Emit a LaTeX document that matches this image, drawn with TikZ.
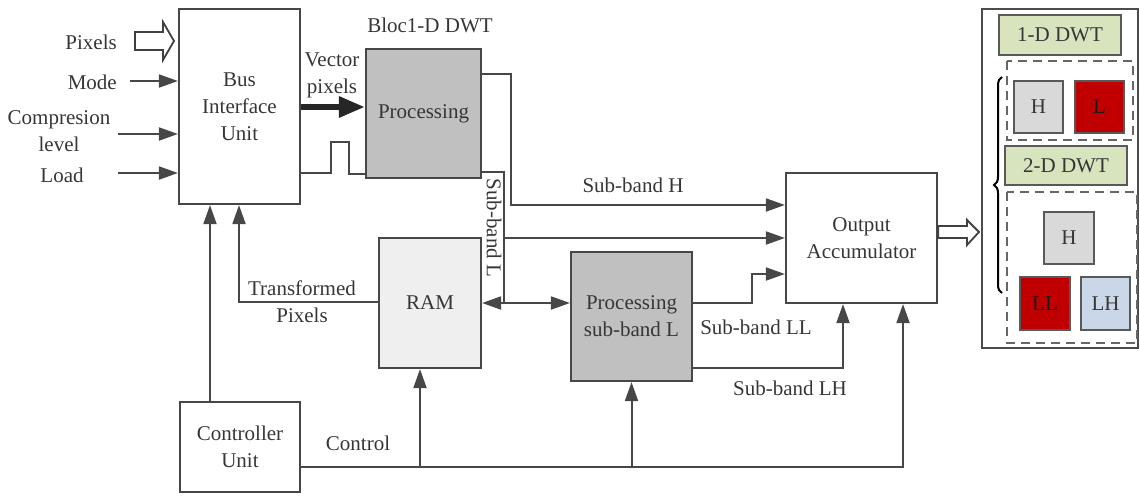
\documentclass[tikz,border=0pt]{standalone}
\usepackage{fontspec}
\setmainfont{Liberation Serif}
\usetikzlibrary{arrows.meta,decorations.pathreplacing}
\definecolor{wirecol}{HTML}{474747}
\definecolor{txtcol}{HTML}{363636}
\definecolor{procgray}{HTML}{C0C0C0}
\definecolor{ramgray}{HTML}{EFEFEF}
\definecolor{hgray}{HTML}{D9D9D9}
\definecolor{dwtgreen}{HTML}{D7E4BD}
\definecolor{bandred}{HTML}{C00000}
\definecolor{lhblue}{HTML}{C9D7E8}
\tikzset{
    myblock/.style={draw=wirecol,line width=2.2pt,align=center,inner sep=0pt,text=txtcol},
    mywire/.style={draw=wirecol,line width=2pt},
    mysig/.style={mywire,-{Triangle[length=19pt,width=13pt]}},
    mybig/.style={draw=black!85,line width=6pt,-{Triangle[length=26pt,width=20pt]}},
    myhollow/.style={draw=black!75,line width=1.8pt,fill=white,line join=miter},
    mylabel/.style={text=txtcol,align=center,inner sep=0pt},
    mydash/.style={draw=black!60,line width=2pt,dash pattern=on 9pt off 6pt},
    mysmall/.style={draw=black!65,line width=2.6pt,inner sep=0pt,text=txtcol},
    every node/.style={font=\fontsize{21}{27}\selectfont}
}
\begin{document}
\begin{tikzpicture}[x=1pt,y=-1pt]
  \useasboundingbox (0,0) rectangle (1140,498);

  % 模块
  \node[myblock,minimum width=121pt,minimum height=195pt] (biu) at (239.5,106.5) {Bus\\Interface\\Unit};
  \node[myblock,fill=procgray,minimum width=115pt,minimum height=129pt] (proc) at (423.5,113.5) {Processing};
  \node[myblock,fill=ramgray,minimum width=102pt,minimum height=130pt] (ram) at (430,303) {RAM};
  \node[myblock,fill=procgray,minimum width=121pt,minimum height=129pt] (procl) at (631.5,316.5) {Processing\\sub-band L};
  \node[myblock,minimum width=151pt,minimum height=130pt] (oa) at (861.5,238) {Output\\Accumulator};
  \node[myblock,minimum width=120pt,minimum height=90pt] (ctrl) at (240,447) {Controller\\Unit};

  % 输入
  \coordinate (inpx) at (135,41);
  \coordinate (inmode) at (130,81);
  \coordinate (incomp) at (118,134);
  \coordinate (inload) at (118,173);
  \draw[myhollow] (inpx) ++(0,-9) -- ++(28,0) -- ++(0,-10) -- (174,41)
    -- (163,60) -- ++(0,-10) -- ++(-28,0) -- cycle;
  \draw[mysig] (inmode) -- (inmode -| biu.west);
  \draw[mysig] (incomp) -- (incomp -| biu.west);
  \draw[mysig] (inload) -- (inload -| biu.west);
  \node[mylabel,anchor=east] (lpx) at (117,42) {Pixels};
  \node[mylabel,anchor=east] (lmode) at (117,82) {Mode};
  \node[mylabel] (lcomp) at (59,131) {Compresion\\level};
  \node[mylabel] (lload) at (62,175) {Load};

  % 一维 DWT
  \node[mylabel] (lbloc) at (430,25) {Bloc1-D DWT};
  \draw[mybig] (biu.east |- 0,107) -- (proc.west |- 0,107);
  \node[mylabel] (lvec) at (332,75) {Vector\\pixels};
  \draw[mywire] (inload -| biu.east) -- (331,173) -- (331,142) -- (349,142)
    -- (349,174) -- (proc.west |- 0,174);

  % 子带
  \draw[mysig] (proc.east |- 0,74) -- (511,74) -- (511,205) -- (oa.west |- 0,205);
  \node[mylabel] (lh) at (633,185) {Sub-band H};
  \draw[mywire] (proc.east |- 0,172) -- (504,172) -- (504,303);
  \coordinate (split) at (504,303);
  \draw[mysig] (504,238) -- (oa.west |- 0,238);
  \draw[mysig] (split) -- (ram.east |- split);
  \draw[mysig] (split) -- (procl.west |- split);
  \node[mylabel,rotate=-90] (ll) at (494,228) {Sub-band L};
  \draw[mysig] (procl.east |- 0,303) -- (752,303) -- (752,274) -- (oa.west |- 0,274);
  \node[mylabel] (lll) at (756,327) {Sub-band LL};
  \draw[mysig] (procl.east |- 0,368) -- (843,368) -- (oa.south -| 843,0);
  \node[mylabel] (llh) at (790,388) {Sub-band LH};

  % 回写与控制
  \draw[mysig] (ram.west |- 0,302) -- (239,302) -- (biu.south -| 239,0);
  \node[mylabel] (ltr) at (302,302) {Transformed\\Pixels};
  \draw[mysig] (ctrl.north -| 210,0) -- (biu.south -| 210,0);
  \draw[mysig] (ctrl.east |- 0,467) -- (903,467) -- (oa.south -| 903,0);
  \draw[mysig] (420,467) -- (ram.south -| 420,0);
  \draw[mysig] (procl.south |- 0,467) -- (procl.south);
  \node[mylabel] (lctrl) at (358,443) {Control};

  % 输出
  \draw[myhollow] (oa.east |- 0,226) -- (967,226) -- (967,220) -- (979,232)
    -- (967,245) -- (967,238) -- (oa.east |- 0,238) -- cycle;

  % 结果面板
  \draw[draw=black!70,line width=1.8pt] (982,9) rectangle (1138,348);
  \node[mysmall,fill=dwtgreen,minimum width=122pt,minimum height=40pt] (dw1) at (1060,35) {1-D DWT};
  \draw[mydash] (1007,61) rectangle (1133,140);
  \node[mysmall,fill=hgray,minimum width=49pt,minimum height=52pt] (h1) at (1038.5,107) {H};
  \node[mysmall,fill=bandred,text=black!90,minimum width=49pt,minimum height=52pt] (l1) at (1099.5,107) {L};
  \node[mysmall,fill=dwtgreen,minimum width=122pt,minimum height=39pt] (dw2) at (1066,165.5) {2-D DWT};
  \draw[mydash] (1007,192) rectangle (1137,343);
  \node[mysmall,fill=hgray,minimum width=50pt,minimum height=52pt] (h2) at (1069,238) {H};
  \node[mysmall,fill=bandred,text=black!90,minimum width=50pt,minimum height=53pt] (ll2) at (1045,303.5) {LL};
  \node[mysmall,fill=lhblue,minimum width=49pt,minimum height=53pt] (lh2) at (1105.5,303.5) {LH};
  \draw[black,line width=2pt,decorate,decoration={brace,amplitude=8pt}]
    (1002,293) -- (1002,77);
\end{tikzpicture}
\end{document}
